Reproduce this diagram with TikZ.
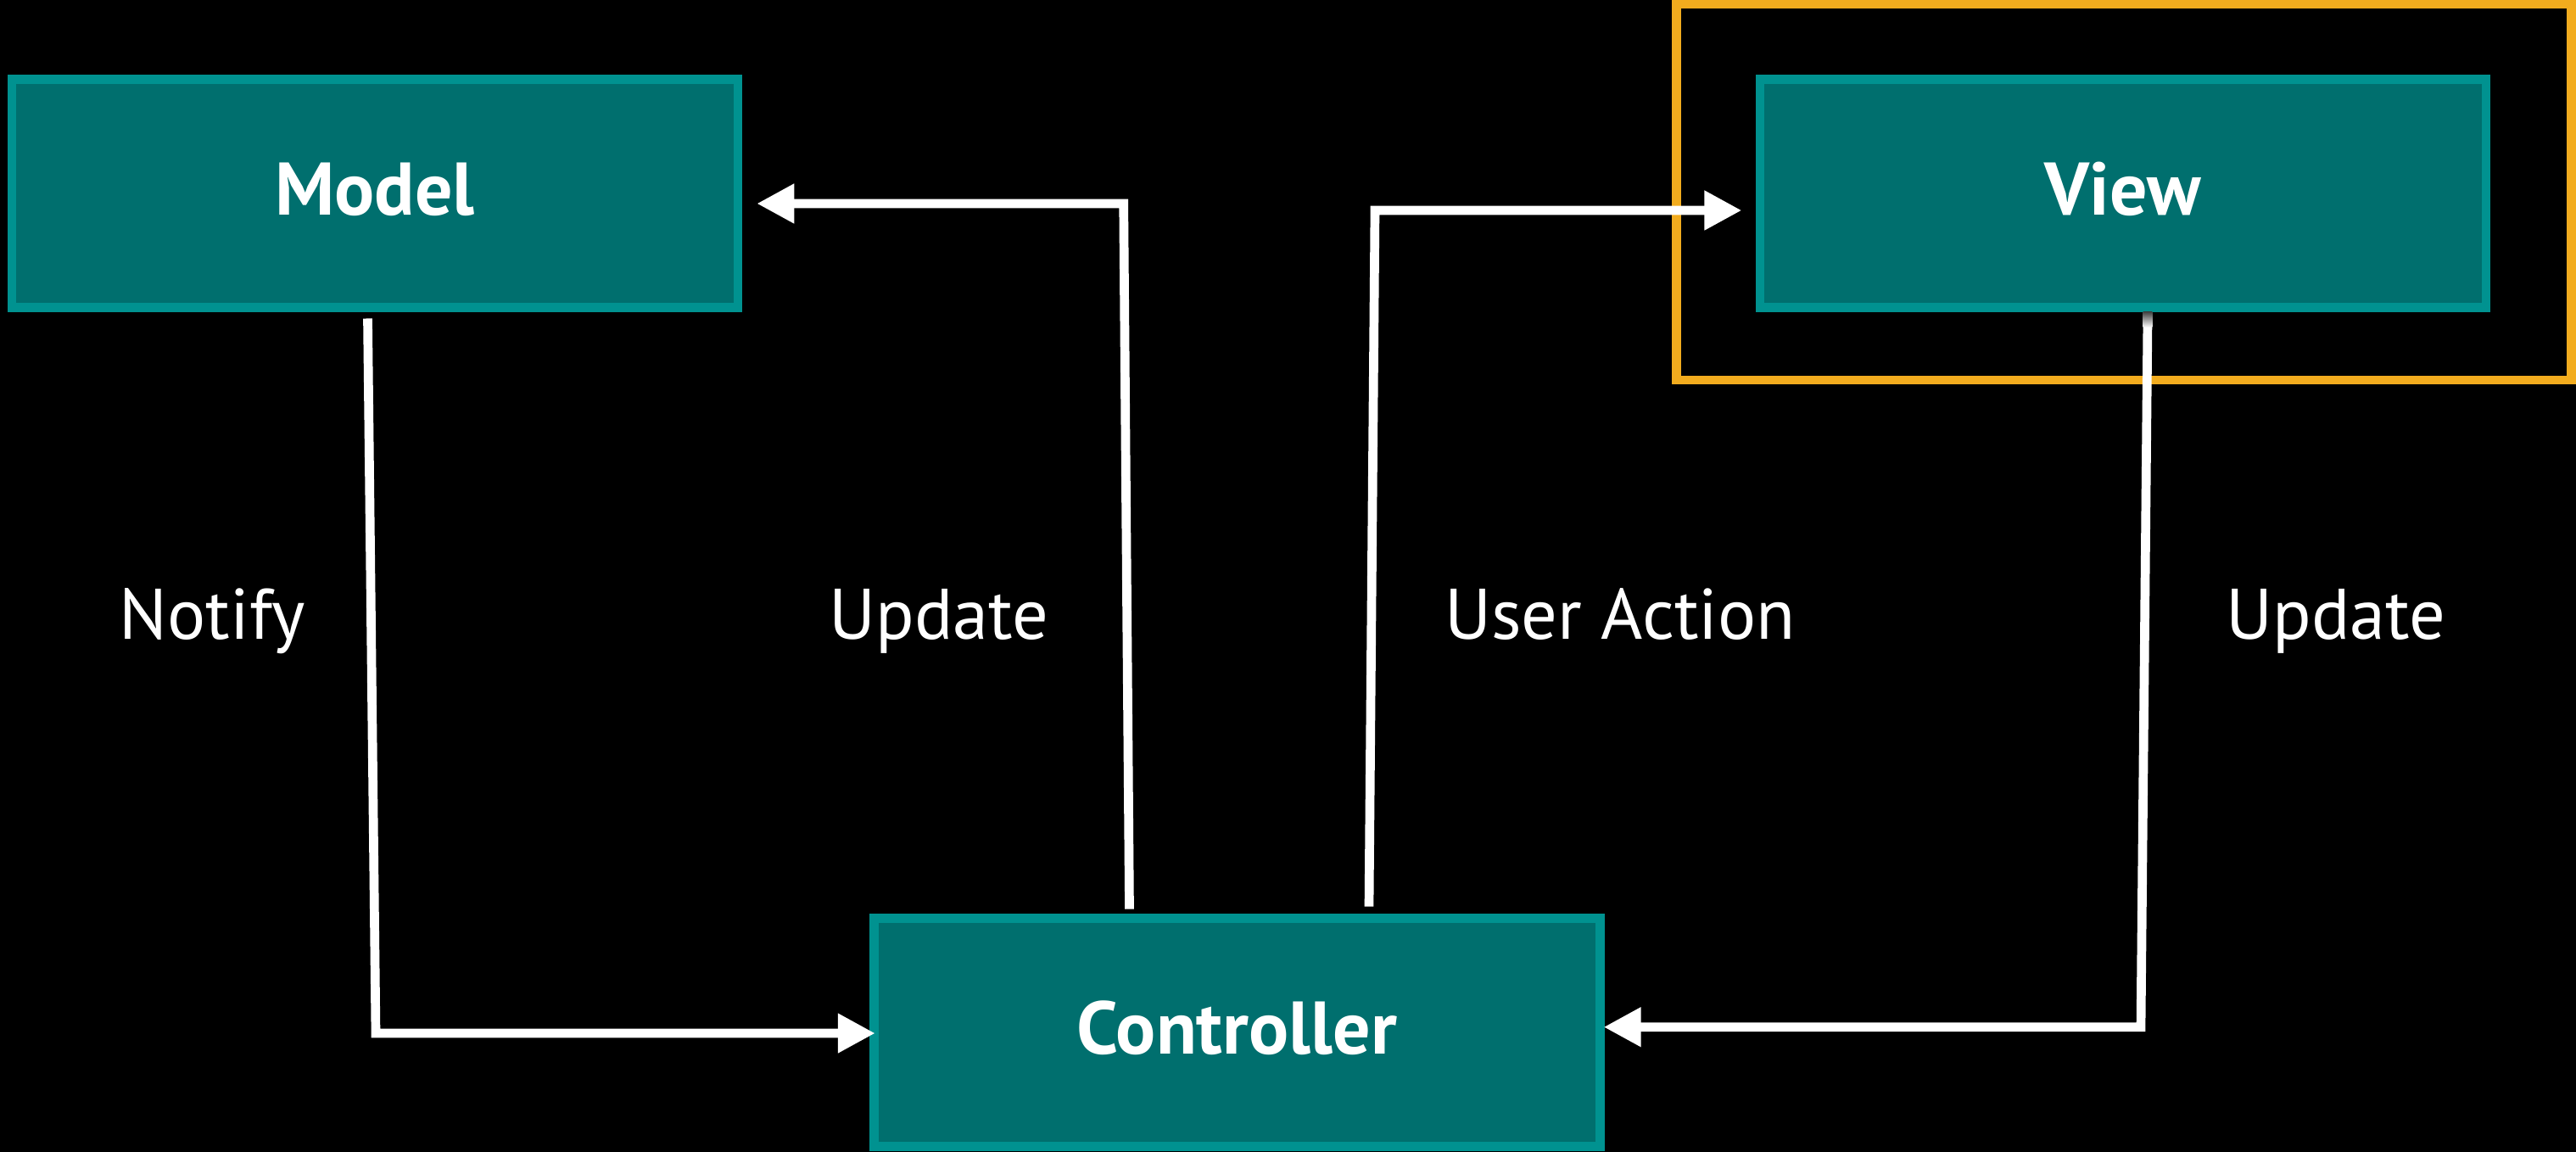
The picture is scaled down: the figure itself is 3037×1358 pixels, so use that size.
\documentclass[tikz,border=0pt]{standalone}
\usepackage{fontspec}
\setmainfont{PT Sans}
\usetikzlibrary{arrows.meta,calc}
\definecolor{tealfill}{RGB}{0,111,110}
\definecolor{tealborder}{RGB}{0,146,144}
\definecolor{focusorange}{RGB}{242,172,30}
\definecolor{fadegray}{RGB}{70,70,70}
\tikzset{
  compbox/.style={draw=tealborder, fill=tealfill, line width=0.107cm,
    minimum width=8.553cm, minimum height=2.693cm, inner sep=0pt,
    text height=0.63cm, text depth=0.12cm, text=white,
    font=\bfseries\fontsize{25}{30}\selectfont},
  flow/.style={draw=white, line width=0.107cm, line join=miter,
    -{Triangle[length=0.44cm,width=0.44cm]}},
  flowlabel/.style={text=white, anchor=base, inner sep=0pt,
    font=\fontsize{24}{29}\selectfont},
  focusbox/.style={draw=focusorange, line width=0.107cm, inner sep=0pt,
    minimum width=10.54cm, minimum height=4.43cm},
}
\begin{document}
\begin{tikzpicture}[x=0.01cm,y=-0.01cm]
\fill[black] (0,0) rectangle (3037,1358);
\useasboundingbox (0,0) rectangle (3037,1358);

\node[focusbox] (focus) at (2504,226.5) {};

\node[compbox] (model) at (442,228) {Model};
\node[compbox] (view) at (2503,228) {View};
\node[compbox] (controller) at (1458.25,1217) {Controller};

\node[flowlabel] (lnotify) at (250.5,753) {Notify};
\node[flowlabel] (lupdateA) at (1107,753) {Update};
\node[flowlabel] (laction) at (1910,753) {User Action};
\node[flowlabel] (lupdateB) at (2754,753) {Update};

% Model -> Controller (Notify)
\draw[flow] ($(model.south)+(-8.5,7.4)$) -- (443,1218) -- ($(controller.west)+(6.8,1)$);
% Controller -> Model (Update)
\draw[flow] ($(controller.north)+(-126.75,-5.35)$) -- (1324.7,240) -- ($(model.east)+(17,12)$);
% Controller -> View (User Action)
\draw[flow] ($(controller.north)+(155.75,-8.35)$) -- (1621,248) -- ($(view.west)+(-16.35,20)$);
% View -> Controller (Update)
\draw[flow] ($(view.south)+(29,5.35)$) -- (2524,1210.7) -- ($(controller.east)+(-0.85,-6.3)$);
\shade[top color=fadegray, bottom color=white] (2526.6,368) rectangle (2537.3,386);
\end{tikzpicture}
\end{document}
